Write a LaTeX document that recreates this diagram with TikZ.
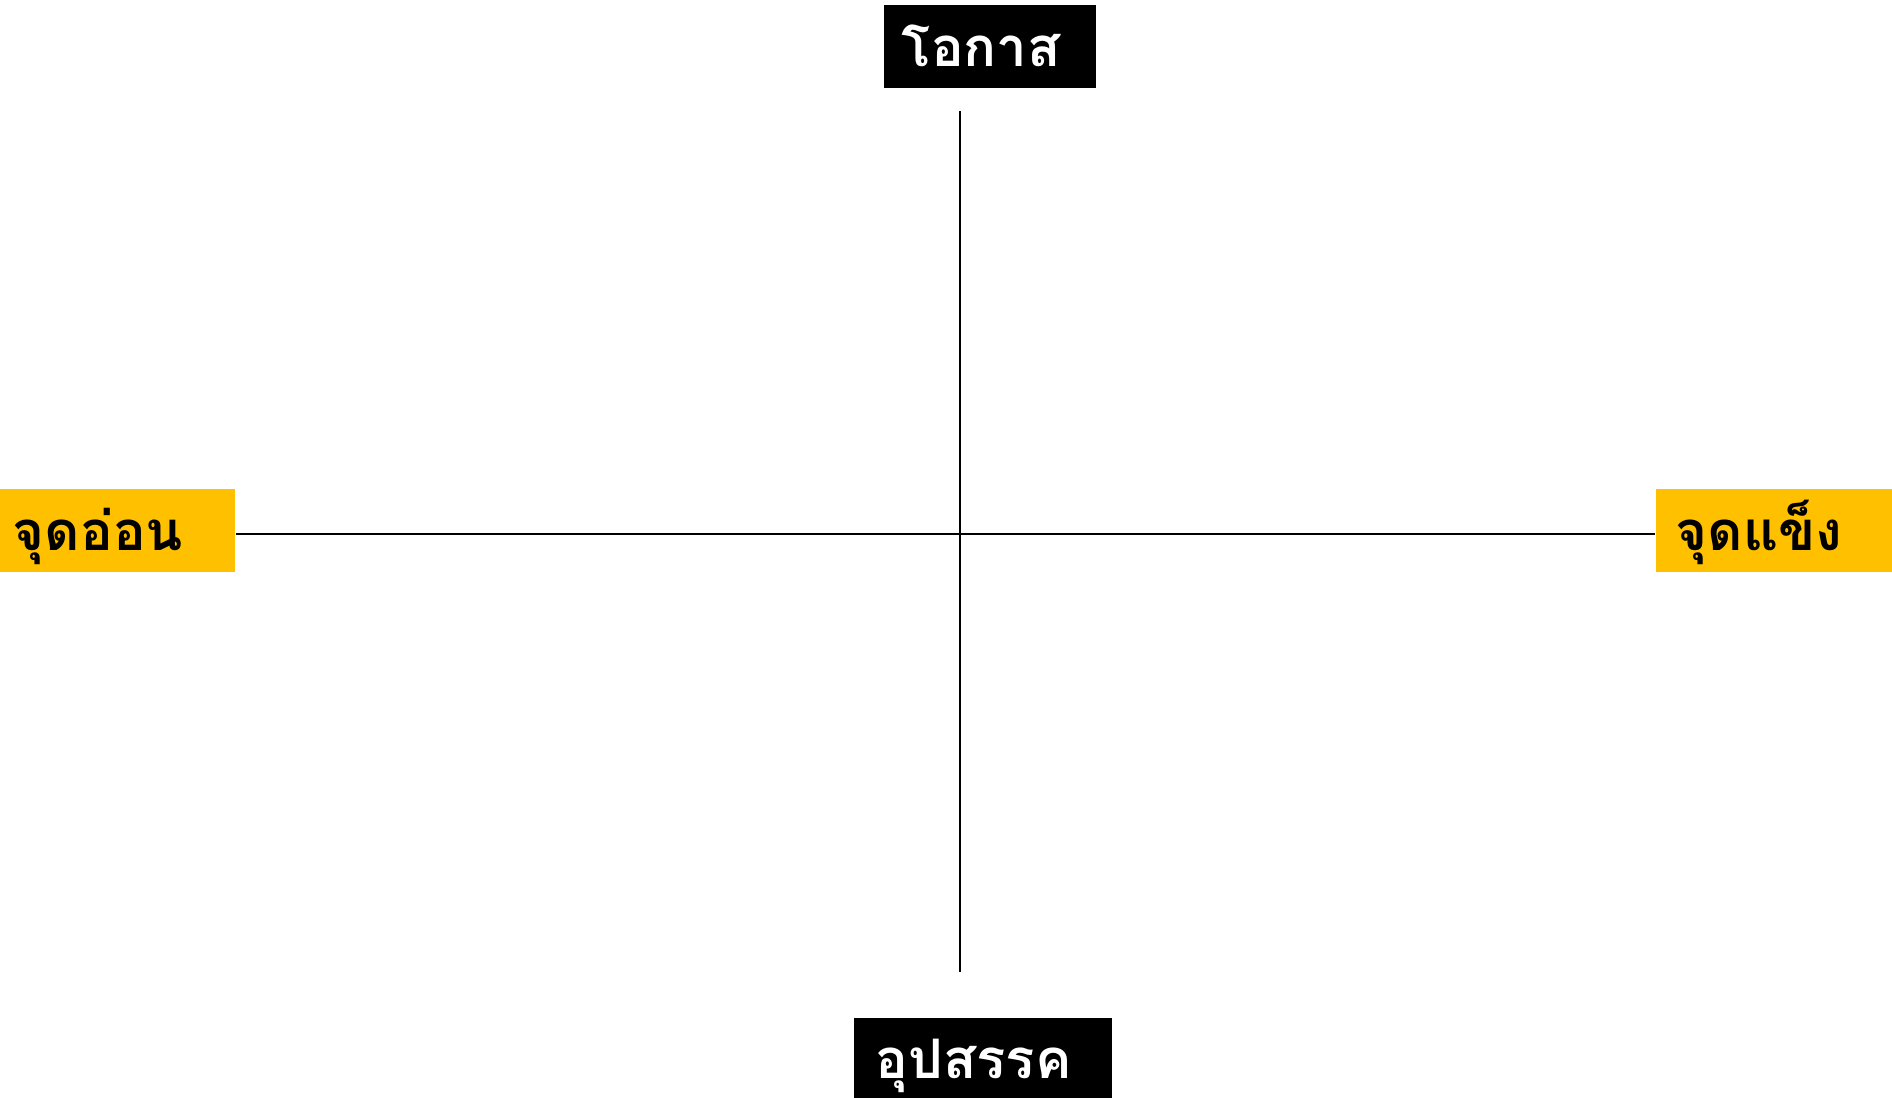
\documentclass[tikz,border=0pt]{standalone}
\usepackage{fontspec}
\newfontfamily\thaifont[Script=Thai]{Loma}
\usetikzlibrary{positioning}
\definecolor{swotyellow}{HTML}{FFC000}

\begin{document}
\begin{tikzpicture}[
    x=0.01cm, y=-0.01cm,
    label box/.style={rectangle, inner xsep=0.18cm, inner ysep=0pt,
                      minimum height=0.83cm, align=left,
                      text height=0.48cm, text depth=0.08cm,
                      font=\thaifont\bfseries\fontsize{15.5pt}{17pt}\selectfont},
    dark/.style={label box, fill=black, text=white},
    bright/.style={label box, fill=swotyellow, text=black},
    axis/.style={line width=0.2mm, black},
]
\useasboundingbox (0,0) rectangle (1892,1098);
\node[dark, text width=1.76cm] (opp) at (990,46.5) {โอกาส};
\node[dark, text width=2.14cm, inner xsep=0.22cm, minimum height=0.81cm] (threat) at (983,1058.5) {อุปสรรค};
\node[bright, text width=2.09cm, inner xsep=0.13cm] (weak) at (117.5,530.5) {จุดอ่อน};
\node[bright, text width=1.96cm, inner xsep=0.2cm] (strong) at (1774,530.5) {จุดแข็ง};

\coordinate (vtop) at (960,111);
\coordinate (vbot) at (960,972);
\draw[axis] (weak.east |- 0,534) -- (strong.west |- 0,534);
\draw[axis] (vtop) -- (vbot);
\end{tikzpicture}
\end{document}
